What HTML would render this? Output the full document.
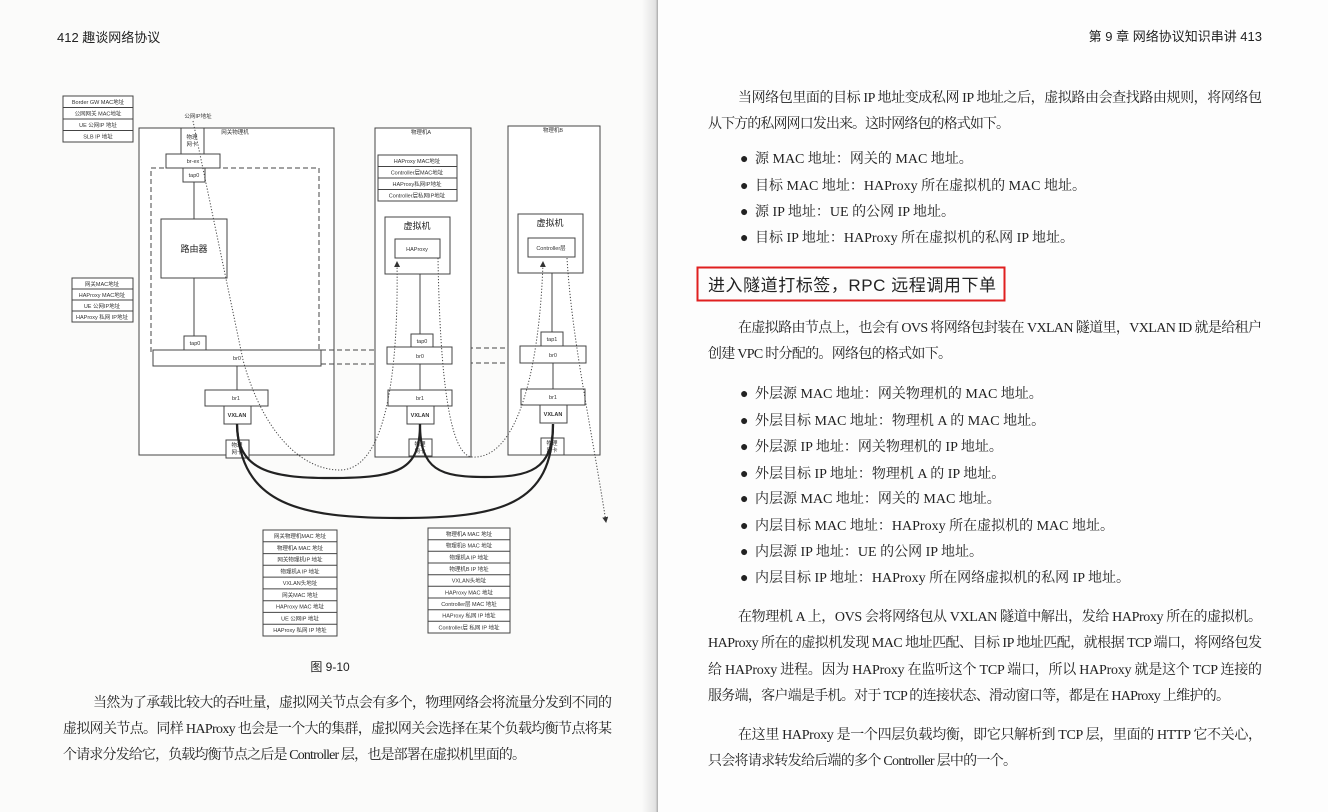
<!DOCTYPE html>
<html><head><meta charset="utf-8"><style>
html,body{margin:0;padding:0;background:#fbfbfa;}
svg{display:block;}
.s{font-family:"Liberation Serif","Noto Serif CJK SC",serif;font-size:14px;fill:#222;}
.h{font-family:"Liberation Sans","Noto Sans CJK SC",sans-serif;fill:#222;}
.t{font-family:"Liberation Sans","Noto Sans CJK SC",sans-serif;font-size:5.5px;fill:#333;text-anchor:middle;}
.b{fill:#fff;stroke:#444;stroke-width:1;}
</style></head><body>
<svg width="1328" height="812" viewBox="0 0 1328 812" xmlns="http://www.w3.org/2000/svg">
<defs>
<linearGradient id="g" x1="0" x2="1"><stop offset="0" stop-color="#fbfbfa"/><stop offset="0.85" stop-color="#e2e2e2"/><stop offset="1" stop-color="#a8a8a8"/></linearGradient>
<marker id="ar" markerWidth="6" markerHeight="6" refX="5" refY="3" orient="auto"><path d="M0,0 L6,3 L0,6 z" fill="#333"/></marker>
</defs>
<rect width="1328" height="812" fill="#fbfbfa"/>
<rect x="642" y="0" width="16" height="812" fill="url(#g)"/>
<rect x="658" y="0" width="670" height="812" fill="#fdfdfd"/>

<text x="57" y="42" class="h" font-size="13">412  趣谈网络协议</text>
<text x="1262" y="41" class="h" font-size="13" text-anchor="end">第 9 章   网络协议知识串讲   413</text>

<g>
<rect x="63" y="96" width="70" height="46" class="b"/>
<line x1="63" y1="107.5" x2="133" y2="107.5" stroke="#444"/><line x1="63" y1="119" x2="133" y2="119" stroke="#444"/><line x1="63" y1="130.5" x2="133" y2="130.5" stroke="#444"/>
<text x="98" y="104" class="t">Border GW MAC地址</text><text x="98" y="115.5" class="t">公网网关 MAC地址</text><text x="98" y="127" class="t">UE 公网IP 地址</text><text x="98" y="138.5" class="t">SLB IP 地址</text>
</g>
<text x="198" y="118" class="t">公网IP地址</text>

<rect x="72" y="278" width="61" height="44" class="b"/>
<line x1="72" y1="289" x2="133" y2="289" stroke="#444"/><line x1="72" y1="300" x2="133" y2="300" stroke="#444"/><line x1="72" y1="311" x2="133" y2="311" stroke="#444"/>
<text x="102" y="286" class="t">网关MAC地址</text><text x="102" y="297" class="t">HAProxy MAC地址</text><text x="102" y="308" class="t">UE 公网IP地址</text><text x="102" y="319" class="t">HAProxy 私网 IP地址</text>

<rect x="139" y="128" width="195" height="327" class="b"/>
<text x="235" y="134" class="t">网关物理机</text>
<rect x="181" y="128" width="23" height="26" class="b"/>
<text x="192" y="139" class="t">物理</text><text x="192" y="146" class="t">网卡</text>
<rect x="166" y="154" width="54" height="14" class="b"/><text x="193" y="163" class="t">br-ex</text>
<rect x="151" y="168" width="168" height="184" fill="none" stroke="#444" stroke-dasharray="5,3"/>
<rect x="183" y="168" width="22" height="14" class="b"/><text x="194" y="177" class="t">tap0</text>
<line x1="194" y1="182" x2="194" y2="219" stroke="#444"/>
<rect x="161" y="219" width="66" height="59" class="b"/>
<text x="194" y="252" class="h" font-size="9" text-anchor="middle">路由器</text>
<line x1="194" y1="278" x2="194" y2="336" stroke="#444"/>
<rect x="184" y="336" width="22" height="14" class="b"/><text x="195" y="345" class="t">tap0</text>
<rect x="153" y="350" width="168" height="16" class="b"/><text x="237" y="360" class="t">br0</text>
<line x1="237" y1="366" x2="237" y2="390" stroke="#444"/>
<rect x="205" y="390" width="63" height="16" class="b"/><text x="236" y="400" class="t">br1</text>
<rect x="224" y="406" width="27" height="18" class="b"/><text x="237" y="417" class="t" font-weight="bold">VXLAN</text>
<rect x="226" y="440" width="23" height="18" class="b"/><text x="237" y="447" class="t">物理</text><text x="237" y="454" class="t">网卡</text>

<g stroke="#444" stroke-dasharray="5,3" fill="none">
<line x1="321" y1="350" x2="387" y2="350"/><line x1="321" y1="364" x2="387" y2="364"/>
<line x1="452" y1="348" x2="520" y2="348"/><line x1="452" y1="363" x2="520" y2="363"/>
<line x1="421" y1="347" x2="421" y2="364"/>
</g>

<rect x="375" y="128" width="96" height="329" class="b"/>
<text x="421" y="134" class="t">物理机A</text>
<rect x="378" y="155" width="79" height="46" class="b"/>
<line x1="378" y1="166.5" x2="457" y2="166.5" stroke="#444"/><line x1="378" y1="178" x2="457" y2="178" stroke="#444"/><line x1="378" y1="189.5" x2="457" y2="189.5" stroke="#444"/>
<text x="417" y="163" class="t">HAProxy MAC地址</text><text x="417" y="174.5" class="t">Controller层MAC地址</text><text x="417" y="186" class="t">HAProxy私网IP地址</text><text x="417" y="197.5" class="t">Controller层私网IP地址</text>
<rect x="385" y="217" width="65" height="57" class="b"/>
<text x="417" y="229" class="h" font-size="9" text-anchor="middle">虚拟机</text>
<rect x="395" y="239" width="45" height="19" class="b"/><text x="417" y="251" class="t">HAProxy</text>
<line x1="420" y1="274" x2="420" y2="334" stroke="#444"/>
<rect x="411" y="334" width="22" height="13" class="b"/><text x="422" y="343" class="t">tap0</text>
<rect x="387" y="347" width="65" height="17" class="b"/><text x="420" y="358" class="t">br0</text>
<line x1="420" y1="364" x2="420" y2="390" stroke="#444"/>
<rect x="388" y="390" width="64" height="16" class="b"/><text x="420" y="400" class="t">br1</text>
<rect x="407" y="406" width="27" height="18" class="b"/><text x="420" y="417" class="t" font-weight="bold">VXLAN</text>
<rect x="409" y="439" width="23" height="17" class="b"/><text x="420" y="446" class="t">物理</text><text x="420" y="453" class="t">网卡</text>

<rect x="508" y="126" width="92" height="329" class="b"/>
<text x="553" y="132" class="t">物理机B</text>
<rect x="518" y="214" width="65" height="59" class="b"/>
<text x="550" y="226" class="h" font-size="9" text-anchor="middle">虚拟机</text>
<rect x="528" y="238" width="47" height="19" class="b"/><text x="551" y="250" class="t">Controller层</text>
<line x1="552" y1="273" x2="552" y2="332" stroke="#444"/>
<rect x="541" y="332" width="22" height="14" class="b"/><text x="552" y="341" class="t">tap1</text>
<rect x="520" y="346" width="66" height="17" class="b"/><text x="553" y="357" class="t">br0</text>
<line x1="553" y1="363" x2="553" y2="389" stroke="#444"/>
<rect x="521" y="389" width="64" height="16" class="b"/><text x="553" y="399" class="t">br1</text>
<rect x="540" y="405" width="27" height="18" class="b"/><text x="553" y="416" class="t" font-weight="bold">VXLAN</text>
<rect x="541" y="438" width="23" height="17" class="b"/><text x="552" y="445" class="t">物理</text><text x="552" y="452" class="t">网卡</text>

<g stroke="#222" stroke-width="2.2" fill="none">
<path d="M237,424 C237,470 270,478 330,478 C400,478 420,470 420,424"/>
<path d="M237,424 C240,505 300,518 400,518 C500,518 553,505 553,424"/>
<path d="M420,424 C420,470 440,477 485,477 C530,477 553,470 553,424"/>
</g>

<g stroke="#444" stroke-width="1" fill="none" stroke-dasharray="1.2,1.8">
<path d="M193,121 L243,360 C262,430 300,470 340,470 C395,470 398,330 397,262" marker-end="url(#ar)"/>
<path d="M438,258 C440,380 450,455 472,457 C520,460 540,360 543,262" marker-end="url(#ar)"/>
<path d="M567,258 C572,340 590,420 606,522" marker-end="url(#ar)"/>
</g>

<g>
<rect x="263" y="530" width="74" height="106" class="b"/>
<g stroke="#444"><line x1="263" y1="541.8" x2="337" y2="541.8"/><line x1="263" y1="553.6" x2="337" y2="553.6"/><line x1="263" y1="565.3" x2="337" y2="565.3"/><line x1="263" y1="577.1" x2="337" y2="577.1"/><line x1="263" y1="588.9" x2="337" y2="588.9"/><line x1="263" y1="600.7" x2="337" y2="600.7"/><line x1="263" y1="612.4" x2="337" y2="612.4"/><line x1="263" y1="624.2" x2="337" y2="624.2"/></g>
<text x="300" y="538" class="t">网关物理机MAC 地址</text><text x="300" y="550" class="t">物理机A MAC 地址</text><text x="300" y="561.5" class="t">网关物理机IP 地址</text><text x="300" y="573.3" class="t">物理机A IP 地址</text><text x="300" y="585" class="t">VXLAN头地址</text><text x="300" y="597" class="t">网关MAC 地址</text><text x="300" y="608.6" class="t">HAProxy MAC 地址</text><text x="300" y="620.4" class="t">UE 公网IP 地址</text><text x="300" y="632.2" class="t">HAProxy 私网 IP 地址</text>
</g>
<g>
<rect x="428" y="528" width="82" height="105" class="b"/>
<g stroke="#444"><line x1="428" y1="539.7" x2="510" y2="539.7"/><line x1="428" y1="551.3" x2="510" y2="551.3"/><line x1="428" y1="563" x2="510" y2="563"/><line x1="428" y1="574.7" x2="510" y2="574.7"/><line x1="428" y1="586.3" x2="510" y2="586.3"/><line x1="428" y1="598" x2="510" y2="598"/><line x1="428" y1="609.7" x2="510" y2="609.7"/><line x1="428" y1="621.3" x2="510" y2="621.3"/></g>
<text x="469" y="536" class="t">物理机A MAC 地址</text><text x="469" y="547.6" class="t">物理机B MAC 地址</text><text x="469" y="559.3" class="t">物理机A IP 地址</text><text x="469" y="571" class="t">物理机B IP 地址</text><text x="469" y="582.6" class="t">VXLAN头地址</text><text x="469" y="594.3" class="t">HAProxy MAC 地址</text><text x="469" y="606" class="t">Controller层 MAC 地址</text><text x="469" y="617.6" class="t">HAProxy 私网 IP 地址</text><text x="469" y="629.3" class="t">Controller层 私网 IP 地址</text>
</g>

<text x="330" y="671" class="h" font-size="12" text-anchor="middle">图 9-10</text>

<text x="93" y="707" class="s" textLength="519">当然为了承载比较大的吞吐量，虚拟网关节点会有多个，物理网络会将流量分发到不同的</text>
<text x="63" y="733" class="s" textLength="549">虚拟网关节点。同样 HAProxy 也会是一个大的集群，虚拟网关会选择在某个负载均衡节点将某</text>
<text x="63" y="759" class="s" textLength="463">个请求分发给它，负载均衡节点之后是 Controller 层，也是部署在虚拟机里面的。</text>

<text x="738" y="102" class="s" textLength="524">当网络包里面的目标 IP 地址变成私网 IP 地址之后，虚拟路由会查找路由规则，将网络包</text>
<text x="708" y="128" class="s" textLength="302">从下方的私网网口发出来。这时网络包的格式如下。</text>
<g class="s">
<text x="740" y="163">●</text><text x="755" y="163">源 MAC 地址：网关的 MAC 地址。</text>
<text x="740" y="190">●</text><text x="755" y="190">目标 MAC 地址：HAProxy 所在虚拟机的 MAC 地址。</text>
<text x="740" y="216">●</text><text x="755" y="216">源 IP 地址：UE 的公网 IP 地址。</text>
<text x="740" y="242">●</text><text x="755" y="242">目标 IP 地址：HAProxy 所在虚拟机的私网 IP 地址。</text>
</g>
<rect x="697.5" y="267.5" width="307" height="33" fill="none" stroke="#e02020" stroke-width="2"/>
<text x="708" y="291" class="h" font-size="17" textLength="288">进入隧道打标签，RPC 远程调用下单</text>
<text x="738" y="332" class="s" textLength="524">在虚拟路由节点上，也会有 OVS 将网络包封装在 VXLAN 隧道里，VXLAN ID 就是给租户</text>
<text x="708" y="358" class="s" textLength="244">创建 VPC 时分配的。网络包的格式如下。</text>
<g class="s">
<text x="740" y="398">●</text><text x="755" y="398">外层源 MAC 地址：网关物理机的 MAC 地址。</text>
<text x="740" y="425">●</text><text x="755" y="425">外层目标 MAC 地址：物理机 A 的 MAC 地址。</text>
<text x="740" y="451">●</text><text x="755" y="451">外层源 IP 地址：网关物理机的 IP 地址。</text>
<text x="740" y="478">●</text><text x="755" y="478">外层目标 IP 地址：物理机 A 的 IP 地址。</text>
<text x="740" y="503">●</text><text x="755" y="503">内层源 MAC 地址：网关的 MAC 地址。</text>
<text x="740" y="530">●</text><text x="755" y="530">内层目标 MAC 地址：HAProxy 所在虚拟机的 MAC 地址。</text>
<text x="740" y="556">●</text><text x="755" y="556">内层源 IP 地址：UE 的公网 IP 地址。</text>
<text x="740" y="582">●</text><text x="755" y="582">内层目标 IP 地址：HAProxy 所在网络虚拟机的私网 IP 地址。</text>
</g>
<text x="738" y="621" class="s" textLength="524">在物理机 A 上，OVS 会将网络包从 VXLAN 隧道中解出，发给 HAProxy 所在的虚拟机。</text>
<text x="708" y="647" class="s" textLength="554">HAProxy 所在的虚拟机发现 MAC 地址匹配、目标 IP 地址匹配，就根据 TCP 端口，将网络包发</text>
<text x="708" y="674" class="s" textLength="554">给 HAProxy 进程。因为 HAProxy 在监听这个 TCP 端口，所以 HAProxy 就是这个 TCP 连接的</text>
<text x="708" y="700" class="s" textLength="522">服务端，客户端是手机。对于 TCP 的连接状态、滑动窗口等，都是在 HAProxy 上维护的。</text>
<text x="738" y="739" class="s" textLength="524">在这里 HAProxy 是一个四层负载均衡，即它只解析到 TCP 层，里面的 HTTP 它不关心，</text>
<text x="708" y="765" class="s" textLength="309">只会将请求转发给后端的多个 Controller 层中的一个。</text>
</svg>
</body></html>
